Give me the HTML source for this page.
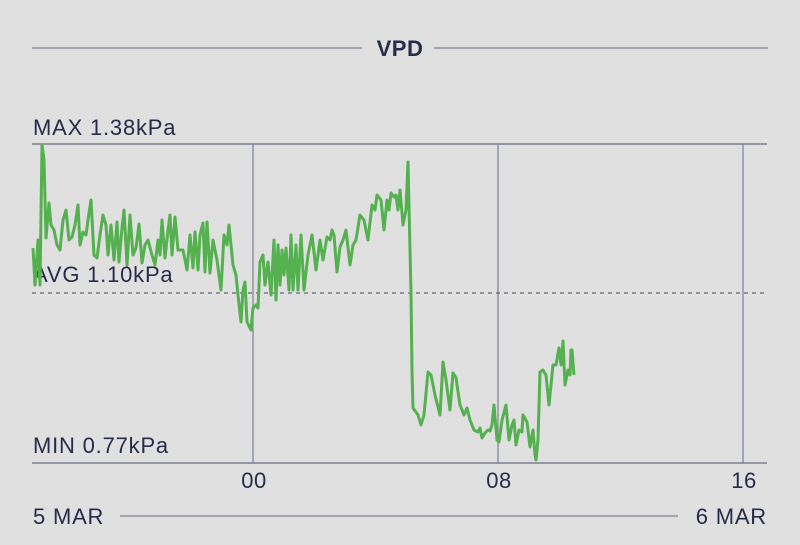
<!DOCTYPE html>
<html><head><style>
body{margin:0;background:#e0e0e0;}
svg{display:block;font-family:"Liberation Sans",sans-serif;}
</style></head><body>
<svg width="800" height="545" viewBox="0 0 800 545">
<rect width="800" height="545" fill="#e0e0e0"/>
<line x1="32" y1="48" x2="362" y2="48" stroke="#7c8090" stroke-width="1.2"/>
<line x1="434" y1="48" x2="768" y2="48" stroke="#7c8090" stroke-width="1.2"/>
<text x="400" y="56" text-anchor="middle" font-size="22" font-weight="bold" letter-spacing="0.5" fill="#262c4a">VPD</text>
<text x="33" y="135" font-size="22" letter-spacing="0.8" fill="#262c4a">MAX 1.38kPa</text>
<line x1="32" y1="144" x2="767" y2="144" stroke="#7c8090" stroke-width="1.5"/>
<line x1="253" y1="144" x2="253" y2="463" stroke="#7c8090" stroke-width="1.2"/>
<line x1="498" y1="144" x2="498" y2="463" stroke="#7c8090" stroke-width="1.2"/>
<line x1="743" y1="144" x2="743" y2="463" stroke="#7c8090" stroke-width="1.2"/>
<line x1="32" y1="293" x2="767" y2="293" stroke="#454a60" stroke-width="1" stroke-dasharray="4,4"/>
<line x1="32" y1="463" x2="767" y2="463" stroke="#7c8090" stroke-width="1.5"/>
<text x="33" y="282" font-size="22" letter-spacing="0.8" fill="#262c4a">AVG 1.10kPa</text>
<text x="33" y="453" font-size="22" letter-spacing="0.8" fill="#262c4a">MIN 0.77kPa</text>
<polyline fill="none" stroke="#55b050" stroke-width="3" stroke-linejoin="round" points="33,248 35,285 38,240 40,285 42,145 44,160 46,238 49,203 51,225 54,230 57,245 60,250 63,220 66,210 69,240 72,237 75,225 78,205 80,245 83,232 86,235 88,220 91,200 94,255 97,258 100,235 103,215 106,225 108,255 111,225 114,260 117,222 119,262 122,228 124,210 127,265 130,215 133,255 136,248 139,224 142,263 145,245 148,240 152,255 155,265 158,240 160,255 162,220 165,258 168,230 170,215 172,255 175,217 178,250 180,250 183,250 187,270 190,235 193,268 195,232 198,270 200,235 203,223 205,272 207,222 210,273 213,240 217,260 221,290 224,235 227,245 229,225 233,265 236,275 238,295 241,322 243,290 245,282 247,322 251,330 253,308 256,305 258,308 260,262 263,255 265,285 268,262 271,295 274,240 276,300 278,245 280,285 282,250 284,275 286,248 289,290 291,235 293,290 296,245 298,290 301,235 304,290 308,255 312,235 316,270 320,240 323,260 327,237 330,240 332,230 334,235 337,272 340,247 343,240 346,230 350,265 353,245 356,240 360,215 364,220 368,240 372,205 375,210 377,195 381,200 384,230 387,200 389,210 391,193 394,197 396,195 398,210 400,190 403,225 406,210 408,162 411,293 412,370 413,408 418,415 421,425 424,415 428,372 431,375 435,395 440,415 443,362 446,380 450,410 453,373 456,378 460,405 464,415 467,408 470,420 474,430 478,432 480,428 482,438 485,433 488,430 490,431 492,425 494,405 497,440 499,442 502,420 506,405 509,440 512,425 514,420 516,445 519,430 522,432 523,415 527,422 530,447 533,430 535,455 536,460 538,440 540,372 543,370 546,375 549,405 553,365 556,365 559,348 561,365 563,341 565,385 568,370 570,375 571,350 572,350 574,375"/>
<text x="254" y="488" text-anchor="middle" font-size="22" letter-spacing="0.5" fill="#262c4a">00</text>
<text x="499" y="488" text-anchor="middle" font-size="22" letter-spacing="0.5" fill="#262c4a">08</text>
<text x="744" y="488" text-anchor="middle" font-size="22" letter-spacing="0.5" fill="#262c4a">16</text>
<text x="33" y="524" font-size="22" letter-spacing="0.8" fill="#262c4a">5 MAR</text>
<line x1="120" y1="516" x2="678" y2="516" stroke="#7c8090" stroke-width="1.2"/>
<text x="767" y="524" text-anchor="end" font-size="22" letter-spacing="0.8" fill="#262c4a">6 MAR</text>
</svg>
</body></html>
